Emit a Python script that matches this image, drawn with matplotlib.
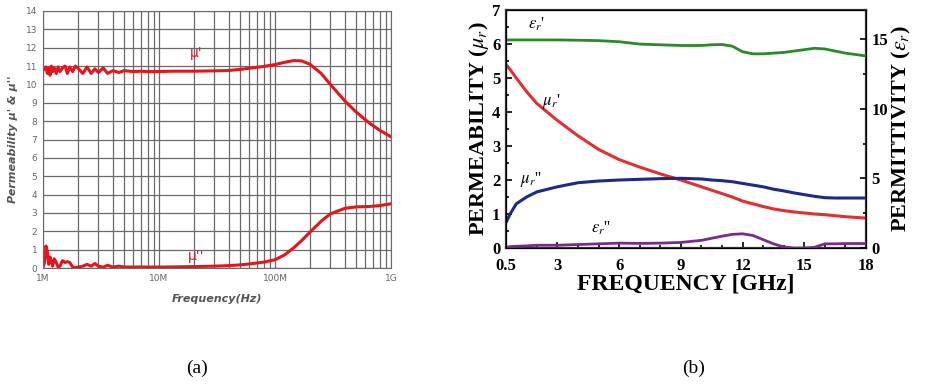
import numpy as np
import matplotlib
matplotlib.use('Agg')
import matplotlib.pyplot as plt
from matplotlib.ticker import MultipleLocator, FixedLocator, NullFormatter

plt.rcParams['mathtext.fontset'] = 'stix'

# (a) permeability vs frequency, 1 MHz .. 1 GHz
f_a = [1.0e6, 1.03e6, 1.06e6, 1.09e6, 1.12e6, 1.15e6, 1.18e6, 1.21e6, 1.25e6, 1.3e6,
       1.35e6, 1.4e6, 1.47e6, 1.55e6, 1.62e6, 1.7e6, 1.8e6, 1.9e6, 2.0e6, 2.2e6,
       2.4e6, 2.6e6, 2.8e6, 3.0e6, 3.3e6, 3.6e6, 4.0e6, 4.5e6, 5e6, 6e6, 7e6, 8e6,
       1e7, 1.3e7, 1.6e7, 2e7, 3e7, 4e7, 5e7, 6e7, 8e7, 1e8, 1.2e8, 1.45e8, 1.7e8,
       2e8, 2.5e8, 3e8, 4e8, 5e8, 6.5e8, 8e8, 1e9]
mu1_a = [10.9, 10.8, 10.95, 10.6, 10.9, 10.5, 11.0, 10.7, 10.9, 10.6,
         10.95, 10.7, 10.9, 11.0, 10.6, 10.95, 10.7, 11.0, 10.9, 10.6,
         10.95, 10.6, 10.85, 10.65, 10.9, 10.6, 10.75, 10.65, 10.75, 10.7, 10.72, 10.7,
         10.7, 10.72, 10.72, 10.72, 10.74, 10.76, 10.82, 10.88, 10.98, 11.08, 11.2, 11.3, 11.28,
         11.1, 10.6, 10.0, 9.1, 8.5, 7.9, 7.5, 7.15]
mu2_a = [0.05, 0.3, 1.2, 0.9, 0.2, 0.6, 0.35, 0.1, 0.5, 0.3,
         0.05, 0.1, 0.4, 0.3, 0.35, 0.3, 0.05, 0.02, 0.05, 0.1,
         0.2, 0.1, 0.25, 0.1, 0.05, 0.15, 0.05, 0.1, 0.06, 0.05, 0.06, 0.05,
         0.05, 0.06, 0.07, 0.08, 0.1, 0.13, 0.17, 0.22, 0.32, 0.45, 0.7, 1.1, 1.5,
         1.95, 2.55, 2.95, 3.25, 3.33, 3.35, 3.4, 3.5]

# (b) permeability / permittivity vs frequency, 0.5 .. 18 GHz
f_b = [0.5, 0.7, 1.0, 1.5, 2.0, 3.0, 4.0, 5.0, 6.0, 7.0, 8.0, 9.0, 10.0, 10.5, 11.0,
       11.5, 12.0, 12.5, 13.0, 13.5, 14.0, 14.5, 15.0, 15.5, 16.0, 16.5, 17.0, 18.0]
mu1_b = [5.4, 5.25, 5.0, 4.6, 4.25, 3.75, 3.3, 2.9, 2.6, 2.38, 2.18, 2.0, 1.8, 1.7, 1.6,
         1.5, 1.38, 1.3, 1.22, 1.15, 1.1, 1.06, 1.03, 1.0, 0.98, 0.95, 0.92, 0.88]
mu2_b = [0.75, 1.0, 1.3, 1.5, 1.65, 1.8, 1.92, 1.97, 2.0, 2.02, 2.04, 2.05, 2.03, 2.0, 1.98,
         1.95, 1.9, 1.85, 1.8, 1.73, 1.68, 1.62, 1.57, 1.52, 1.48, 1.47, 1.47, 1.47]
eps1_b = [14.95, 14.95, 14.95, 14.95, 14.95, 14.95, 14.93, 14.9, 14.82, 14.65, 14.6, 14.55, 14.55, 14.6, 14.62,
          14.5, 14.1, 13.95, 13.95, 14.0, 14.05, 14.15, 14.25, 14.35, 14.3, 14.15, 14.0, 13.8]
eps2_b = [0.05, 0.1, 0.12, 0.15, 0.2, 0.2, 0.25, 0.3, 0.35, 0.33, 0.35, 0.4, 0.55, 0.7, 0.85,
          0.98, 1.02, 0.9, 0.6, 0.3, 0.08, 0.0, 0.0, 0.05, 0.3, 0.3, 0.32, 0.32]

fig = plt.figure(figsize=(9.25, 3.87), dpi=100)

# ---------- (a) ----------
ax1 = fig.add_axes([43/925, 1-268/387, 348/925, 257/387])
ax1.semilogx(f_a, mu1_a, color='#e8141c', lw=2.2)
ax1.semilogx(f_a, mu2_a, color='#e8141c', lw=2.2)
ax1.set_xlim(1e6, 1e9)
ax1.set_ylim(0, 14)
ax1.yaxis.set_major_locator(MultipleLocator(1))
ax1.xaxis.set_major_locator(FixedLocator([1e6, 1e7, 1e8, 1e9]))
ax1.set_xticklabels(['1M', '10M', '100M', '1G'])
ax1.xaxis.set_minor_locator(FixedLocator([k*10**e for e in (6, 7, 8) for k in range(2, 10)]))
ax1.xaxis.set_minor_formatter(NullFormatter())
ax1.grid(True, which='both', color='#6a6a6a', lw=0.9)
ax1.tick_params(which='both', length=0, labelsize=6.5, labelcolor='#666666', pad=4)
for s in ax1.spines.values():
    s.set_color('#6a6a6a')
ax1.set_xlabel('Frequency(Hz)', fontsize=8, style='italic', weight='bold', color='#555555', labelpad=8)
ax1.set_ylabel("Permeability \u03bc' & \u03bc''", fontsize=8, style='italic', weight='bold',
               color='#555555', labelpad=6)
ax1.text(2.1e7, 11.35, "\u03bc'", color='#e8141c', fontsize=10, ha='center', va='bottom')
ax1.text(2.1e7, 0.25, "\u03bc''", color='#e8141c', fontsize=10, ha='center', va='bottom')

# ---------- (b) ----------
serif = ['Liberation Serif', 'DejaVu Serif']
ax2 = fig.add_axes([506/925, 1-248/387, 360/925, 238/387])
ax2.plot(f_b, mu1_b, color='#e03030', lw=2.2)
ax2.plot(f_b, mu2_b, color='#1c2a8c', lw=2.2)
ax2.set_xlim(0.5, 18)
ax2.set_ylim(0, 7)
ax2.set_xticks([0.5, 3, 6, 9, 12, 15, 18])
ax2.set_xticklabels(['0.5', '3', '6', '9', '12', '15', '18'])
ax2.xaxis.set_minor_locator(FixedLocator([1, 2, 4, 5, 7, 8, 10, 11, 13, 14, 16, 17]))
ax2.yaxis.set_major_locator(MultipleLocator(1))
ax2.yaxis.set_minor_locator(MultipleLocator(0.5))
ax2.tick_params(which='both', direction='in', labelsize=12, width=1.2)
ax2.tick_params(axis='x', pad=7)
ax2.tick_params(axis='y', pad=4)
ax2.tick_params(which='major', length=4)
ax2.tick_params(which='minor', length=2.5)
for lab in ax2.get_xticklabels() + ax2.get_yticklabels():
    lab.set_family(serif)
    lab.set_weight('bold')
for s in ax2.spines.values():
    s.set_linewidth(1.6)
    s.set_color('#333333')
ax2.set_xlabel('FREQUENCY [GHz]', fontsize=17, family=serif, weight='bold', labelpad=0)
ax2.set_ylabel(r'PERMEABILITY ($\mu_r$)', fontsize=16, family=serif, weight='bold', labelpad=1)

ax3 = ax2.twinx()
ax3.plot(f_b, eps1_b, color='#2a8a2a', lw=2.0)
ax3.plot(f_b, eps2_b, color='#7a2a8a', lw=2.0)
ax3.set_ylim(0, 17.1)
ax3.yaxis.set_major_locator(MultipleLocator(5))
ax3.yaxis.set_minor_locator(MultipleLocator(2.5))
ax3.tick_params(which='both', direction='in', labelsize=12, pad=4, width=1.2)
ax3.tick_params(which='major', length=4)
ax3.tick_params(which='minor', length=2.5)
for lab in ax3.get_yticklabels():
    lab.set_family(serif)
    lab.set_weight('bold')
ax3.set_ylabel(r'PERMITTIVITY ($\varepsilon_r$)', fontsize=16, family=serif, weight='bold', labelpad=1)

mathfs = 12
ax2.text(2.0, 6.45, r"$\varepsilon_r$'", fontsize=mathfs, family=serif, ha='center')
ax2.text(2.7, 4.2, r"$\mu_r$'", fontsize=mathfs, family=serif, ha='center')
ax2.text(1.7, 1.9, r"$\mu_r$''", fontsize=mathfs, family=serif, ha='center')
ax2.text(5.1, 0.45, r"$\varepsilon_r$''", fontsize=mathfs, family=serif, ha='center')

# captions
fig.text(197/925, 1-368/387, '(a)', fontsize=14, family=serif, ha='center', va='center')
fig.text(694/925, 1-368/387, '(b)', fontsize=14, family=serif, ha='center', va='center')

fig.savefig('out.png', dpi=100)
